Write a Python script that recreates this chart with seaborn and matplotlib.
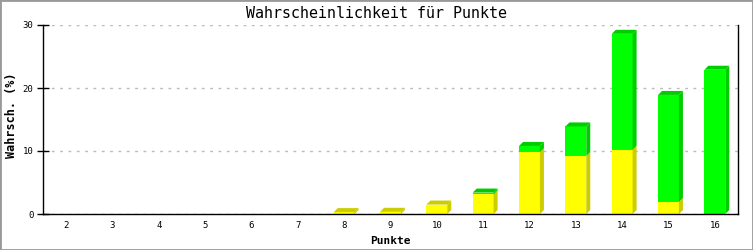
import matplotlib
matplotlib.use("Agg")
import matplotlib.pyplot as plt
from matplotlib.patches import Polygon, Rectangle
import seaborn as sns
import numpy as np
import pandas as pd

# ---- data ----
categories = ["2", "3", "4", "5", "6", "7", "8", "9", "10", "11", "12", "13", "14", "15", "16"]
yellow_vals = [0, 0, 0, 0, 0, 0, 0.3, 0.35, 1.5, 3.1, 9.8, 9.2, 10.2, 1.9, 0]
green_vals = [0, 0, 0, 0, 0, 0, 0, 0, 0, 0.3, 1.0, 4.7, 18.4, 17.0, 22.9]
y_ticks = [0, 10, 20, 30]

title = "Wahrscheinlichkeit für Punkte"
x_label = "Punkte"
y_label = "Wahrsch. (%)"

YEL, YEL_D = "#ffff00", "#cccc00"
GRN, GRN_D = "#00ff00", "#00cc00"

sns.set_style("white")
plt.rcParams["font.family"] = ["DejaVu Sans Mono", "DejaVu Sans"]
plt.rcParams["text.color"] = "black"
plt.rcParams["axes.labelcolor"] = "black"
plt.rcParams["xtick.color"] = "black"
plt.rcParams["ytick.color"] = "black"

df = pd.DataFrame({"cat": categories,
                   "yellow": yellow_vals,
                   "total": np.array(yellow_vals) + np.array(green_vals)})

W, H, DPI = 753, 250, 100
fig = plt.figure(figsize=(W / DPI, H / DPI), dpi=DPI)
ax = fig.add_axes([43 / W, (H - 214) / H, (738 - 43) / W, (214 - 25) / H])

sns.barplot(data=df, x="cat", y="total", color=GRN, saturation=1, width=0.45,
            ax=ax, linewidth=0, errorbar=None)
sns.barplot(data=df, x="cat", y="yellow", color=YEL, saturation=1, width=0.45,
            ax=ax, linewidth=0, errorbar=None)

ax.set_xlim(-0.5, len(categories) - 0.5)
ax.set_ylim(0, 30)
ax.set_yticks(y_ticks)

patches = list(ax.patches)
n = len(categories)
green_bars = patches[:n]
yellow_bars = patches[n:2 * n]

d = 4  # pixel depth
toD = ax.transData
inv = toD.inverted()


def poly(pts_disp, color):
    pts = inv.transform(np.array(pts_disp))
    ax.add_patch(Polygon(pts, closed=True, facecolor=color, edgecolor="none",
                         zorder=1.5, clip_on=False))


for gb, yb, yv, gv in zip(green_bars, yellow_bars, yellow_vals, green_vals):
    x0 = yb.get_x()
    x1 = x0 + yb.get_width()
    segs = []
    if yv > 0:
        segs.append((0, yv, YEL_D))
    if gv > 0:
        segs.append((yv, yv + gv, GRN_D))
    if not segs:
        continue
    for (a, b, c) in segs:
        (X1, Ya) = toD.transform((x1, a))
        (_, Yb) = toD.transform((x1, b))
        poly([(X1, Ya), (X1 + d, Ya + d), (X1 + d, Yb + d), (X1, Yb)], c)
    top = segs[-1][1]
    tc = segs[-1][2]
    (X0, Yt) = toD.transform((x0, top))
    (X1, _) = toD.transform((x1, top))
    poly([(X0, Yt), (X0 + d, Yt + d), (X1 + d, Yt + d), (X1, Yt)], tc)

# grid and spines
ax.yaxis.grid(True, color="#bbbbbb", linestyle=(0, (2, 4)), linewidth=1)
ax.set_axisbelow(True)
for s in ["left", "right", "bottom"]:
    ax.spines[s].set_visible(True)
    ax.spines[s].set_color("black")
    ax.spines[s].set_linewidth(1)
ax.spines["top"].set_visible(False)

ax.tick_params(axis="y", direction="inout", length=8, width=1, labelsize=6.5, pad=3,
               left=True, colors="black")
ax.tick_params(axis="x", length=0, labelsize=6.5, pad=5, colors="black")

ax.set_xlabel(x_label, fontsize=8, fontweight="bold", labelpad=4, color="black")
ax.set_ylabel(y_label, fontsize=8.5, fontweight="bold", color="black")
ax.yaxis.set_label_coords((18 - 43) / (738 - 43), 0.52)

fig.text(0.5, (H - 13) / H, title, ha="center", va="center", fontsize=10.8, color="black")

# outer border
fig.patches.append(Rectangle((0, 0), 1, 1, transform=fig.transFigure, fill=False,
                             edgecolor="#999999", linewidth=2))

fig.savefig("out.png", dpi=DPI)
